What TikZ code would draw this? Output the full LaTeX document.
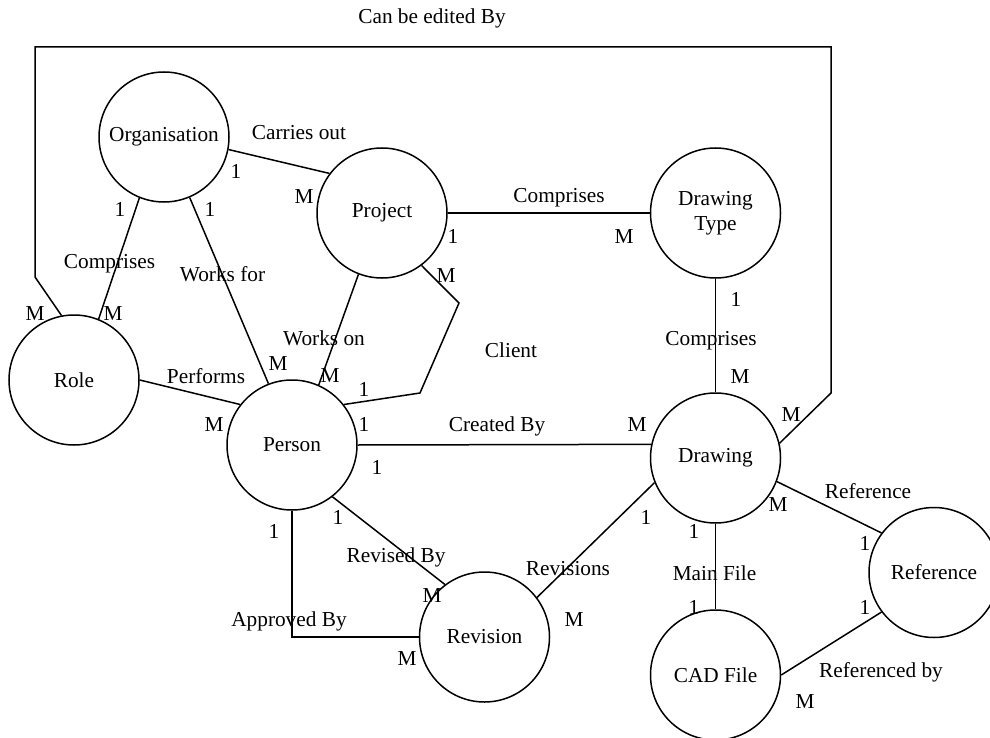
\documentclass[tikz,border=0pt]{standalone}
\usepackage{fontspec}
\setmainfont{Liberation Serif}
\begin{document}
\begin{tikzpicture}[x=1pt,y=-1pt, line width=1.5pt,
  ent/.style={draw, circle, minimum size=130pt, inner sep=0pt, align=center,
    font=\fontsize{21.3}{25.5}\selectfont},
  lbl/.style={inner sep=0pt, font=\fontsize{21.3}{25.5}\selectfont,
    text height=14pt, text depth=0pt}]
\useasboundingbox (0,0) rectangle (990,738);
% entities
\node[ent] (org) at (164,137) {Organisation};
\node[ent] (proj) at (382,213) {Project};
\node[ent] (dt) at (715.5,213) {Drawing\\Type};
\node[ent] (role) at (74,380) {Role};
\node[ent] (person) at (292,445) {Person};
\node[ent] (drw) at (715.5,458) {Drawing};
\node[ent] (rev) at (484.5,637) {Revision};
\node[ent] (cad) at (715.5,675) {CAD File};
\node[ent] (ref) at (934,572.5) {Reference};
% waypoints
\coordinate (e1) at (35,277);
\coordinate (e2) at (35,47);
\coordinate (e3) at (831,47);
\coordinate (e4) at (831,393);
\coordinate (c1) at (459,303);
\coordinate (c2) at (420,393);
% connectors
\draw (role.101.5) -- (e1) -- (e2) -- (e3) -- (e4) -- (drw.13.3);
\draw (org.-11) -- (proj.143);
\draw (org.-112.4) -- (role.68.4);
\draw (org.-67.6) -- (person.111);
\draw (proj.-111.8) -- (person.66.7);
\draw (proj.-53.6) -- (c1) -- (c2) -- (person.38);
\draw (proj.east) -- (dt.west);
\draw (dt.south) -- (drw.north);
\draw (role.east) -- (person.142);
\draw (person.east) -- (drw.168);
\draw (person.-52.6) -- (rev.127);
\draw (person.south) |- (rev.west);
\draw (drw.-158.5) -- (rev.37.3);
\draw (drw.south) -- (cad.north);
\draw (drw.-21.5) -- (ref.143.3);
\draw (cad.east) -- (ref.-143.3);
% relationship labels
\node[lbl] (tEdit) at (432,17) {Can be edited By};
\node[lbl] (tCarry) at (299,132.5) {Carries out};
\node[lbl] (tComp1) at (109.5,261) {Comprises};
\node[lbl] (tWorksFor) at (222.5,274) {Works for};
\node[lbl] (tWorksOn) at (324,338) {Works on};
\node[lbl] (tPerf) at (206,376) {Performs};
\node[lbl] (tClient) at (511,350) {Client};
\node[lbl] (tComp2) at (559,196) {Comprises};
\node[lbl] (tComp3) at (711,338) {Comprises};
\node[lbl] (tCreated) at (497,424.5) {Created By};
\node[lbl] (tRevised) at (396,555) {Revised By};
\node[lbl] (tApproved) at (289,619) {Approved By};
\node[lbl] (tRevisions) at (568,568) {Revisions};
\node[lbl] (tMain) at (714.5,573) {Main File};
\node[lbl] (tRef) at (868,491) {Reference};
\node[lbl] (tRefBy) at (881,670) {Referenced by};
% cardinalities
\node[lbl] (k1) at (236,172) {1};
\node[lbl] (k2) at (304,197) {M};
\node[lbl] (k3) at (120,209) {1};
\node[lbl] (k4) at (113,313) {M};
\node[lbl] (k5) at (35,313) {M};
\node[lbl] (k6) at (210,209) {1};
\node[lbl] (k7) at (278,363) {M};
\node[lbl] (k8) at (330,375) {M};
\node[lbl] (k9) at (446,275) {M};
\node[lbl] (k10) at (364,389) {1};
\node[lbl] (k11) at (453,236) {1};
\node[lbl] (k12) at (624,236) {M};
\node[lbl] (k13) at (736,299) {1};
\node[lbl] (k14) at (740,376) {M};
\node[lbl] (k15) at (214,424) {M};
\node[lbl] (k16) at (364,424) {1};
\node[lbl] (k17) at (377,467) {1};
\node[lbl] (k18) at (637,424) {M};
\node[lbl] (k19) at (791,414) {M};
\node[lbl] (k20) at (338,517) {1};
\node[lbl] (k21) at (432,595) {M};
\node[lbl] (k22) at (274,531) {1};
\node[lbl] (k23) at (407,658) {M};
\node[lbl] (k24) at (646,517) {1};
\node[lbl] (k25) at (574,619) {M};
\node[lbl] (k26) at (694,531) {1};
\node[lbl] (k27) at (694,607) {1};
\node[lbl] (k28) at (778,504) {M};
\node[lbl] (k29) at (865,543) {1};
\node[lbl] (k30) at (865,607) {1};
\node[lbl] (k31) at (805,701) {M};
\end{tikzpicture}
\end{document}
